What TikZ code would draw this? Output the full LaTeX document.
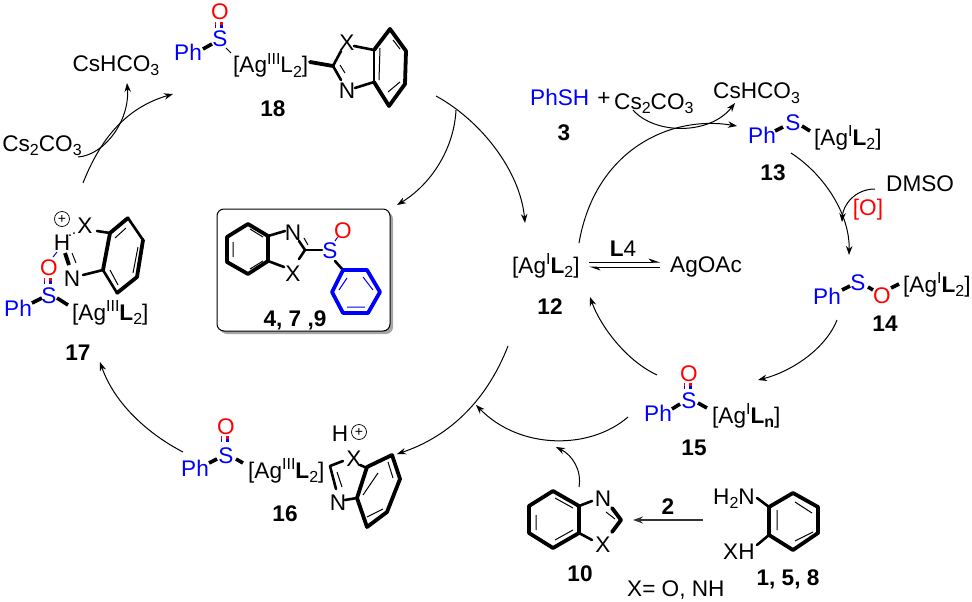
\documentclass[tikz,border=0pt]{standalone}
\usepackage{fontspec}
\setmainfont{Liberation Sans}
\usetikzlibrary{arrows.meta,calc,shadows}
\newcommand\dn[1]{\raisebox{-4.5pt}{\fontsize{16}{16}\selectfont #1}}
\newcommand\upr[1]{\raisebox{8.5pt}{\fontsize{16}{16}\selectfont #1}}
\newcommand\sdbl[2]{%
  \draw[line width=3pt,red] (#1,#2) -- (#1,#2+3);
  \draw[line width=3pt,blue] (#1,#2+3) -- (#1,#2+6);
  \draw[line width=1pt,red] (#1-6,#2) -- (#1-6,#2+3);
  \draw[line width=1pt,blue] (#1-6,#2+3) -- (#1-6,#2+6);}
\tikzset{
  t/.style={inner sep=0pt,anchor=base,font=\fontsize{22.6}{24}\selectfont},
  tl/.style={t,anchor=base west},
  lab/.style={t,font=\fontsize{22.6}{24}\selectfont\bfseries},
  pb/.style={t,blue},
  pr/.style={t,red},
  arr/.style={line width=1pt,-{Stealth[length=9pt,width=6.5pt]}},
  hv/.style={line width=3.8pt,line cap=round,line join=round},
  md/.style={line width=2.6pt,line cap=round,line join=round},
  tn/.style={line width=1pt},
  wd/.style={line width=3.6pt},
  chg/.style={draw,circle,line width=.7pt,minimum size=15pt,inner sep=0pt},
}
\begin{document}
\begin{tikzpicture}[x=1pt,y=-1pt]
\useasboundingbox (0,0) rectangle (972,602);
% ---------- 18
\node[pr] (o18) at (220,20) {O};
\node[pb] (s18) at (220,47) {S};
\node[pb] (ph18) at (188,60) {Ph};
\node[tl] (ag18) at (233,73) {[Ag\upr{III}L\dn{2}]};
\node[t] (x18) at (347,51) {X};
\node[t] (n18) at (347,99) {N};
\node[lab] (l18) at (273,116) {18};
\node[t] (csh1) at (116,71) {CsHCO\dn{3}};
\node[t] (cs1) at (42,151) {Cs\dn{2}CO\dn{3}};
\sdbl{221}{22}
\draw[wd] (203,49) -- (212,44);
\draw[tn] (226,48) -- (231,53);
\draw[hv] (310,62) -- (333,66);
\draw[md] (333,66) -- (341,51);
\draw[md] (333,66) -- (341,80);
\draw[tn] (340,65) -- (345,73);
\draw[md] (354,46) -- (374,50);
\draw[md] (355,88) -- (374,82);
\draw[md] (374,50) -- (374,82);
\draw[hv] (374,50) -- (390,29) -- (406,51) -- (405,84) -- (389,106) -- (374,82);
\draw[tn] (380,48) -- (379,80) (393,40) -- (400,49) (400,82) -- (388,92);
% ---------- 17
\node[chg] (p17) at (62,219) {\fontsize{14}{14}\selectfont +};
\node[t] (x17) at (85,233) {X};
\node[t] (h17) at (62,250) {H};
\node[pr] (o17) at (49,275) {O};
\node[t] (n17) at (72,286) {N};
\node[pb] (s17) at (49,303) {S};
\node[pb] (ph17) at (18,316) {Ph};
\node[tl] (ag17) at (72,320) {[Ag\upr{III}\textbf{L}\dn{2}]};
\node[lab] (l17) at (78,360) {17};
\sdbl{50}{278}
\draw[wd] (32,303) -- (42,298);
\draw[wd] (57,298) -- (68,305);
\draw[tn,blue] (57,252) -- (53,257);
\draw[hv,line cap=butt] (65,253) -- (69,265);
\draw[tn] (72,253) -- (76,263);
\fill (70,235) circle (1pt) (74,233) circle (1pt);
\draw[md] (97,231) -- (110,233);
\draw[md] (83,275) -- (103,270);
\draw[hv] (103,270) -- (110,233) -- (128,218);
\draw[md] (128,218) -- (143,240);
\draw[hv] (143,240) -- (137,277) -- (117,293);
\draw[md] (117,293) -- (103,270);
\draw[tn] (115,238) -- (126,228) (138,247) -- (133,273) (110,270) -- (118,285);
% ---------- box
\draw[fill=white,line width=1pt,rounded corners=7pt,
  drop shadow={shadow xshift=3pt,shadow yshift=-3pt,fill=black!35,opacity=1}] (217,209) rectangle (390,331);
\node[t] (nb) at (293,240) {N};
\node[t] (xb) at (293,281) {X};
\node[pb] (sb) at (330,258) {S};
\node[pr] (ob) at (343,238) {O};
\node[lab] (lb) at (295,326) {4, 7 ,9};
\draw[hv] (248,224) -- (268,236) -- (268,261) -- (248,274) -- (227,262) -- (227,237) -- cycle;
\draw[tn] (233,242) -- (233,257) (250,229) -- (263,237) (250,269) -- (263,261);
\draw[md] (268,236) -- (285,231) (268,261) -- (284,267);
\draw[md] (299,241) -- (305,250);
\draw[tn] (304,238) -- (308,245);
\draw[md] (305,250) -- (299,259);
\draw[md] (305,250) -- (322,250);
\draw[tn,blue] (335,241) -- (337,238);
\draw[tn,red] (337,238) -- (339,236);
\draw[md] (335,261) -- (343,270);
\draw[hv,blue] (343,270) -- (367,270) -- (380,292) -- (368,313) -- (343,313) -- (332,292) -- cycle;
\draw[tn,blue] (347,278) -- (339,290) (363,277) -- (373,290) (347,307) -- (365,307);
% ---------- 16
\node[pr] (o16) at (226,434) {O};
\node[pb] (s16) at (226,463) {S};
\node[pb] (ph16) at (195,476) {Ph};
\node[tl] (ag16) at (248,478) {[Ag\upr{III}\textbf{L}\dn{2}]};
\node[t] (h16) at (340,441) {H};
\node[chg] (p16) at (359,432) {\fontsize{14}{14}\selectfont +};
\node[t] (x16) at (354,466) {X};
\node[t] (n16) at (338,510) {N};
\node[lab] (l16) at (285,521) {16};
\sdbl{227}{436}
\draw[wd] (209,463) -- (217,459);
\draw[wd] (236,459) -- (243,463);
\draw[md] (343,461) -- (330,466) -- (336,489);
\draw[tn] (337,472) -- (342,487);
\draw[md] (360,465) -- (367,468);
\draw[md] (345,500) -- (357,498);
\draw[hv] (357,498) -- (367,467) -- (392,455) -- (400,479) -- (387,512) -- (367,527) -- cycle;
\draw[tn] (378,473) -- (363,495) (388,462) -- (393,478) (383,509) -- (367,517);
% ---------- 15
\node[pr] (o15) at (689,381) {O};
\node[pb] (s15) at (689,408) {S};
\node[pb] (ph15) at (658,421) {Ph};
\node[tl] (ag15) at (712,423) {[Ag\upr{I}\textbf{L}\dn{\textbf{n}}]};
\node[lab] (l15) at (694,455) {15};
\sdbl{690}{383}
\draw[wd] (672,409) -- (680,404);
\draw[wd] (698,403) -- (707,408);
% ---------- 14
\node[pb] (ph14) at (827,304) {Ph};
\node[pb] (s14) at (858,290) {S};
\node[pr] (o14) at (882,303) {O};
\node[tl] (ag14) at (903,292) {[Ag\upr{I}\textbf{L}\dn{2}]};
\node[lab] (l14) at (885,331) {14};
\draw[wd] (842,290) -- (850,286);
\draw[wd] (868,287) -- (873,290);
\draw[wd] (891,288) -- (899,284);
% ---------- 13
\node[pb] (ph13) at (762,143) {Ph};
\node[pb] (s13) at (793,130) {S};
\node[tl] (ag13) at (814,145) {[Ag\upr{I}\textbf{L}\dn{2}]};
\node[lab] (l13) at (773,180) {13};
\draw[wd] (775,131) -- (783,127);
\draw[wd] (802,126) -- (810,131);
% ---------- top right
\node[tl,blue] (phsh) at (530,106) {PhSH};
\node[t] (plus) at (604,106) {+};
\node[tl] (cs2) at (614,109) {Cs\dn{2}CO\dn{3}};
\node[tl] (csh2) at (713,99) {CsHCO\dn{3}};
\node[lab] (l3) at (564,140) {3};
\node[tl] (dmso) at (886,191) {DMSO};
\node[pr] (ox) at (868,215) {[O]};
% ---------- 12
\node[tl] (ag12) at (512,273) {[Ag\upr{I}\textbf{L}\dn{2}]};
\node[lab] (l12) at (550,314) {12};
\node[t] (l4) at (623,256) {\textbf{L}4};
\node[tl] (agoac) at (670,272) {AgOAc};
\coordinate (eqa) at (589,262);
\coordinate (eqb) at (660,262);
\coordinate (eqc) at (660,267);
\coordinate (eqd) at (589,267);
\draw[line width=1pt,-{Stealth[harpoon,length=10pt,width=7pt]}] (eqa) -- (eqb);
\draw[line width=1pt,-{Stealth[harpoon,length=10pt,width=7pt]}] (eqc) -- (eqd);
% ---------- 10
\node[t] (n10) at (603,506) {N};
\node[t] (x10) at (603,552) {X};
\node[lab] (l10) at (580,581) {10};
\node[tl] (xeq) at (627,596) {X= O, NH};
\draw[hv] (553,491) -- (579,506) -- (579,533) -- (553,548) -- (529,533) -- (529,506) -- cycle;
\draw[tn] (536,515) -- (536,530) (555,498) -- (573,508) (555,540) -- (573,530);
\draw[md] (579,506) -- (592,501) (579,533) -- (592,540);
\draw[hv] (612,508) -- (621,520) -- (612,532);
\draw[tn] (606,512) -- (615,519);
% ---------- 1,5,8
\node[tl] (h2n) at (713,504) {H\dn{2}N};
\node[tl] (xh) at (723,559) {XH};
\node[lab] (l1) at (788,585) {1, 5, 8};
\node[lab] (l2) at (668,514) {2};
\draw[hv] (793,493) -- (818,507) -- (818,533) -- (793,550) -- (769,535) -- (769,507) -- cycle;
\draw[tn] (777,510) -- (777,530) (795,502) -- (812,513) (795,541) -- (813,532);
\draw[md] (757,498) -- (769,507) (757,545) -- (769,535);
\coordinate (tb) at (703,520);
\coordinate (ta) at (633,520);
\draw[line width=1.2pt,black!80,-{Stealth[length=10pt,width=7pt]}] (tb) -- (ta);
% ---------- arrows
\coordinate (a1) at (78,157);  \coordinate (a2) at (127,83);
\coordinate (b1) at (83,183);  \coordinate (b2) at (173,94);
\coordinate (c1) at (436,96);  \coordinate (c2) at (525,223);
\coordinate (d1) at (456,110); \coordinate (d2) at (397,205);
\coordinate (e1) at (508,346); \coordinate (e2) at (397,454);
\coordinate (f1) at (628,417); \coordinate (f2) at (476,405);
\coordinate (g1) at (579,487); \coordinate (g2) at (556,447);
\coordinate (h1) at (579,243); \coordinate (h2) at (737,126);
\coordinate (i1) at (633,110); \coordinate (i2) at (735,103);
\coordinate (j1) at (791,153); \coordinate (j2) at (849,255);
\coordinate (k1) at (875,189); \coordinate (k2) at (842,222);
\coordinate (m1) at (837,320); \coordinate (m2) at (758,380);
\coordinate (n1) at (657,375); \coordinate (n2) at (590,297);
\coordinate (q1) at (183,452); \coordinate (q2) at (100,362);
\draw[arr] (a1) .. controls (105,155) and (130,120) .. (a2);
\draw[arr] (b1) .. controls (100,140) and (125,108) .. (b2);
\draw[arr] (c1) .. controls (480,120) and (520,170) .. (c2);
\draw[arr] (d1) .. controls (454,150) and (430,185) .. (d2);
\draw[arr] (e1) .. controls (485,405) and (445,438) .. (e2);
\draw[arr] (f1) .. controls (590,450) and (520,450) .. (f2);
\draw[arr] (g1) .. controls (582,470) and (572,455) .. (g2);
\draw[arr] (h1) .. controls (595,150) and (670,115) .. (h2);
\draw[arr] (i1) .. controls (655,135) and (710,135) .. (i2);
\draw[arr] (j1) .. controls (825,175) and (850,215) .. (j2);
\draw[arr] (k1) .. controls (855,189) and (843,205) .. (k2);
\draw[arr] (m1) .. controls (825,350) and (790,372) .. (m2);
\draw[arr] (n1) .. controls (625,360) and (600,325) .. (n2);
\draw[arr] (q1) .. controls (150,435) and (115,405) .. (q2);
\end{tikzpicture}
\end{document}
